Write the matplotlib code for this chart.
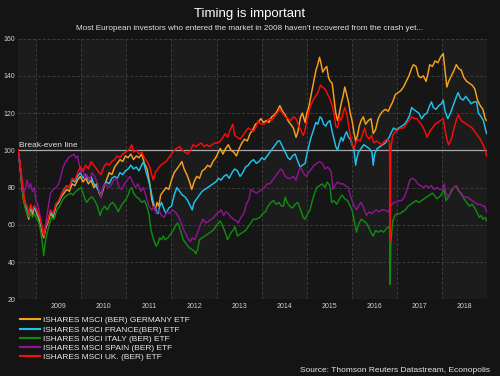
import matplotlib
matplotlib.use("Agg")
import matplotlib.pyplot as plt

plt.rcParams['font.family'] = ['Liberation Sans', 'DejaVu Sans']

# ---------------- data ----------------
title = "Timing is important"
subtitle = "Most European investors who entered the market in 2008 haven't recovered from the crash yet..."
source = "Source: Thomson Reuters Datastream, Econopolis"
labels = ["ISHARES MSCI (BER) GERMANY ETF", "ISHARES MSCI FRANCE(BER) ETF",
          "ISHARES MSCI ITALY (BER) ETF", "ISHARES MSCI SPAIN (BER) ETF",
          "ISHARES MSCI UK. (BER) ETF"]
years = [2009, 2010, 2011, 2012, 2013, 2014, 2015, 2016, 2017, 2018]
y_ticks = [20, 40, 60, 80, 100, 120, 140, 160]

germany_t = [2008.60, 2008.64, 2008.68, 2008.72, 2008.76, 2008.80, 2008.84, 2008.88, 2008.92, 2008.96,
             2009.00, 2009.05, 2009.10, 2009.14, 2009.17, 2009.21, 2009.26, 2009.32, 2009.38, 2009.44,
             2009.50, 2009.56, 2009.62, 2009.68, 2009.74, 2009.80, 2009.86, 2009.92, 2009.98, 2010.04,
             2010.10, 2010.16, 2010.22, 2010.28, 2010.34, 2010.40, 2010.44, 2010.50, 2010.56, 2010.62,
             2010.68, 2010.74, 2010.80, 2010.86, 2010.92, 2010.98, 2011.04, 2011.10, 2011.16, 2011.22,
             2011.28, 2011.34, 2011.40, 2011.46, 2011.52, 2011.56, 2011.60, 2011.64, 2011.68, 2011.72,
             2011.76, 2011.82, 2011.88, 2011.94, 2012.00, 2012.06, 2012.12, 2012.18, 2012.23, 2012.28,
             2012.34, 2012.40, 2012.45, 2012.50, 2012.56, 2012.62, 2012.68, 2012.74, 2012.80, 2012.86,
             2012.92, 2012.98, 2013.04, 2013.08, 2013.14, 2013.20, 2013.26, 2013.32, 2013.38, 2013.44,
             2013.50, 2013.56, 2013.62, 2013.68, 2013.74, 2013.80, 2013.86, 2013.92, 2013.98, 2014.04,
             2014.10, 2014.16, 2014.22, 2014.28, 2014.34, 2014.40, 2014.46, 2014.52, 2014.58, 2014.64,
             2014.70, 2014.76, 2014.80, 2014.86, 2014.90, 2014.96, 2015.00, 2015.04, 2015.08, 2015.12,
             2015.16, 2015.20, 2015.24, 2015.28, 2015.31, 2015.35, 2015.40, 2015.44, 2015.48, 2015.52,
             2015.56, 2015.60, 2015.64, 2015.68, 2015.72, 2015.76, 2015.80, 2015.84, 2015.88, 2015.92,
             2015.96, 2016.00, 2016.04, 2016.08, 2016.12, 2016.16, 2016.20, 2016.25, 2016.30, 2016.36,
             2016.42, 2016.47, 2016.52, 2016.58, 2016.62, 2016.68, 2016.74, 2016.80, 2016.84, 2016.90,
             2016.96, 2017.02, 2017.08, 2017.14, 2017.20, 2017.26, 2017.32, 2017.36, 2017.42, 2017.47,
             2017.52, 2017.58, 2017.64, 2017.68, 2017.72, 2017.78, 2017.84, 2017.90, 2017.96, 2018.02,
             2018.06, 2018.10, 2018.14, 2018.20, 2018.26, 2018.31, 2018.36, 2018.42, 2018.48, 2018.54,
             2018.60, 2018.66, 2018.72, 2018.78, 2018.84, 2018.90, 2018.95, 2018.98]
germany_v = [100, 93, 82, 74, 70, 66, 63, 69, 65, 70,
             67, 64, 60, 55, 53, 58, 61, 66, 64, 70,
             72, 75, 77, 79, 78, 82, 81, 84, 86, 83,
             85, 82, 84, 80, 82, 77, 75, 80, 84, 88,
             87, 91, 93, 95, 94, 97, 96, 98, 95, 97,
             96, 98, 93, 90, 82, 74, 70, 68, 72, 70,
             76, 78, 80, 79, 84, 88, 90, 92, 94, 90,
             87, 83, 79, 83, 86, 85, 89, 90, 92, 91,
             94, 96, 99, 101, 98, 101, 103, 100, 99, 97,
             101, 104, 106, 105, 109, 111, 114, 115, 117, 115,
             116, 115, 118, 119, 121, 124, 121, 119, 116, 114,
             112, 107, 110, 118, 120, 115, 120, 123, 128, 133,
             138, 143, 146, 150, 147, 142, 144, 145, 139, 137,
             136, 128, 120, 116, 120, 125, 129, 134, 130, 126,
             120, 116, 110, 105, 108, 113, 116, 118, 114, 116,
             117, 109, 111, 117, 119, 121, 122, 121, 123, 126,
             130, 131, 132, 134, 137, 140, 144, 146, 145, 140,
             139, 140, 137, 141, 146, 145, 148, 147, 150, 152,
             143, 134, 137, 140, 143, 146, 144, 143, 139, 137,
             136, 135, 133, 127, 124, 122, 117, 116]

france_t = [2008.60, 2008.64, 2008.68, 2008.72, 2008.76, 2008.80, 2008.84, 2008.88, 2008.92, 2008.96,
            2009.00, 2009.05, 2009.10, 2009.14, 2009.17, 2009.21, 2009.26, 2009.32, 2009.38, 2009.44,
            2009.50, 2009.56, 2009.62, 2009.68, 2009.74, 2009.80, 2009.86, 2009.92, 2009.98, 2010.04,
            2010.10, 2010.16, 2010.22, 2010.28, 2010.34, 2010.40, 2010.44, 2010.50, 2010.56, 2010.62,
            2010.68, 2010.74, 2010.80, 2010.86, 2010.92, 2010.98, 2011.04, 2011.10, 2011.16, 2011.22,
            2011.28, 2011.34, 2011.38, 2011.44, 2011.48, 2011.54, 2011.58, 2011.62, 2011.66, 2011.70,
            2011.74, 2011.78, 2011.84, 2011.88, 2011.94, 2012.00, 2012.06, 2012.12, 2012.18, 2012.24,
            2012.30, 2012.36, 2012.42, 2012.46, 2012.50, 2012.56, 2012.62, 2012.68, 2012.74, 2012.80,
            2012.86, 2012.92, 2012.98, 2013.04, 2013.10, 2013.16, 2013.22, 2013.28, 2013.34, 2013.40,
            2013.46, 2013.52, 2013.58, 2013.64, 2013.70, 2013.76, 2013.82, 2013.88, 2013.94, 2014.00,
            2014.06, 2014.12, 2014.18, 2014.24, 2014.30, 2014.36, 2014.40, 2014.46, 2014.52, 2014.58,
            2014.63, 2014.68, 2014.74, 2014.80, 2014.85, 2014.90, 2014.96, 2015.00, 2015.04, 2015.08,
            2015.12, 2015.16, 2015.20, 2015.24, 2015.29, 2015.33, 2015.37, 2015.42, 2015.46, 2015.51,
            2015.56, 2015.60, 2015.64, 2015.68, 2015.72, 2015.76, 2015.80, 2015.84, 2015.88, 2015.92,
            2015.96, 2016.00, 2016.04, 2016.08, 2016.10, 2016.14, 2016.20, 2016.26, 2016.32, 2016.38,
            2016.44, 2016.47, 2016.50, 2016.56, 2016.62, 2016.68, 2016.74, 2016.80, 2016.86, 2016.92,
            2016.98, 2017.04, 2017.10, 2017.16, 2017.22, 2017.28, 2017.32, 2017.36, 2017.42, 2017.48,
            2017.54, 2017.60, 2017.66, 2017.72, 2017.76, 2017.80, 2017.86, 2017.92, 2017.98, 2018.02,
            2018.06, 2018.12, 2018.18, 2018.24, 2018.30, 2018.35, 2018.40, 2018.46, 2018.52, 2018.58,
            2018.64, 2018.70, 2018.76, 2018.80, 2018.86, 2018.91, 2018.95, 2018.98]
france_v = [100, 93, 84, 76, 71, 68, 66, 70, 67, 69,
            68, 65, 62, 57, 54, 58, 62, 67, 65, 71,
            72, 76, 79, 81, 80, 84, 83, 86, 88, 85,
            87, 84, 86, 82, 80, 78, 76, 81, 83, 82,
            85, 86, 85, 88, 87, 89, 90, 92, 90, 91,
            89, 92, 94, 88, 85, 79, 74, 70, 68, 66,
            70, 72, 68, 66, 69, 70, 76, 80, 78, 76,
            75, 73, 70, 68, 72, 74, 76, 78, 79, 80,
            81, 82, 83, 85, 84, 86, 87, 85, 88, 90,
            89, 86, 88, 91, 92, 94, 95, 93, 94, 96,
            95, 97, 99, 101, 103, 105, 105, 102, 99, 96,
            95, 97, 98, 94, 91, 92, 93, 98, 102, 106,
            109, 112, 115, 114, 118, 117, 114, 113, 115, 116,
            110, 106, 102, 100, 104, 107, 105, 108, 110, 107,
            106, 103, 101, 92, 95, 99, 101, 103, 102, 101,
            99, 92, 98, 101, 102, 103, 104, 106, 109, 112,
            111, 112, 113, 114, 116, 119, 123, 122, 121, 120,
            117, 119, 120, 124, 126, 123, 122, 124, 125, 127,
            121, 117, 120, 124, 128, 131, 128, 127, 129, 127,
            125, 126, 126, 120, 118, 116, 112, 109]

italy_t = [2008.60, 2008.64, 2008.68, 2008.72, 2008.76, 2008.80, 2008.84, 2008.88, 2008.92, 2008.96,
           2009.00, 2009.05, 2009.10, 2009.14, 2009.17, 2009.20, 2009.24, 2009.28, 2009.34, 2009.40,
           2009.46, 2009.52, 2009.58, 2009.64, 2009.70, 2009.76, 2009.82, 2009.88, 2009.94, 2010.00,
           2010.04, 2010.08, 2010.12, 2010.18, 2010.24, 2010.30, 2010.36, 2010.42, 2010.46, 2010.52,
           2010.58, 2010.64, 2010.70, 2010.76, 2010.82, 2010.88, 2010.94, 2011.00, 2011.04, 2011.08,
           2011.12, 2011.16, 2011.22, 2011.28, 2011.34, 2011.40, 2011.44, 2011.50, 2011.54, 2011.58,
           2011.62, 2011.66, 2011.70, 2011.74, 2011.78, 2011.82, 2011.86, 2011.92, 2011.98, 2012.04,
           2012.10, 2012.14, 2012.20, 2012.26, 2012.32, 2012.38, 2012.44, 2012.50, 2012.54, 2012.58,
           2012.62, 2012.68, 2012.74, 2012.80, 2012.86, 2012.92, 2012.98, 2013.04, 2013.08, 2013.14,
           2013.19, 2013.24, 2013.30, 2013.36, 2013.41, 2013.46, 2013.52, 2013.58, 2013.64, 2013.70,
           2013.76, 2013.81, 2013.88, 2013.96, 2014.02, 2014.08, 2014.14, 2014.20, 2014.26, 2014.32,
           2014.38, 2014.44, 2014.48, 2014.52, 2014.56, 2014.62, 2014.68, 2014.74, 2014.80, 2014.86,
           2014.92, 2014.96, 2015.02, 2015.07, 2015.12, 2015.17, 2015.22, 2015.28, 2015.34, 2015.40,
           2015.45, 2015.51, 2015.55, 2015.60, 2015.66, 2015.72, 2015.78, 2015.84, 2015.90, 2015.96,
           2016.00, 2016.05, 2016.10, 2016.14, 2016.20, 2016.26, 2016.32, 2016.38, 2016.44, 2016.47,
           2016.52, 2016.58, 2016.64, 2016.70, 2016.76, 2016.80, 2016.83, 2016.845, 2016.86, 2016.90,
           2016.95, 2017.00, 2017.06, 2017.12, 2017.18, 2017.24, 2017.30, 2017.36, 2017.42, 2017.48,
           2017.54, 2017.60, 2017.66, 2017.72, 2017.78, 2017.82, 2017.88, 2017.94, 2018.00, 2018.04,
           2018.08, 2018.14, 2018.20, 2018.26, 2018.31, 2018.36, 2018.42, 2018.48, 2018.54, 2018.60,
           2018.66, 2018.72, 2018.76, 2018.82, 2018.86, 2018.90, 2018.95, 2018.98]
italy_v = [100, 92, 82, 74, 69, 66, 64, 67, 64, 66,
           64, 62, 57, 50, 43.5, 50, 55, 59, 64, 63,
           68, 70, 73, 75, 76, 77, 76, 78, 79, 80,
           77, 74, 72, 74, 75, 73, 70, 65, 68, 70,
           68, 71, 72, 70, 67, 70, 72, 74, 76, 79,
           80, 77, 75, 74, 72, 73, 71, 66, 58, 54,
           51, 48.5, 50, 53, 52, 54, 52, 53, 55, 57,
           60, 61, 57, 52, 50, 48, 47, 46, 44.5, 47,
           52, 53, 54, 55, 56, 57, 59, 61, 62, 59,
           56, 52, 55, 57, 59, 54, 55, 56, 57, 59,
           61, 63, 63, 64, 66, 67, 70, 72, 73, 71,
           72, 70, 70, 75, 72, 70, 69, 71, 72, 68,
           64, 63, 66, 68, 73, 77, 80, 81, 82, 80,
           83, 81, 72, 73, 71, 74, 76, 74, 73, 70,
           68, 62, 56, 60, 63, 62, 61, 58, 55, 54,
           57, 56, 57, 56, 58, 59, 58, 28, 50, 62,
           65, 66, 66, 67, 68, 70, 71, 72, 73, 72,
           73, 74, 75, 76, 77, 76, 74, 75, 77, 79,
           73, 75, 78, 80, 81, 78, 77, 74, 72, 70,
           71, 69, 67, 64, 65, 63, 64, 62]

spain_t = [2008.60, 2008.64, 2008.68, 2008.72, 2008.76, 2008.80, 2008.84, 2008.88, 2008.92, 2008.96,
           2009.00, 2009.05, 2009.10, 2009.14, 2009.17, 2009.21, 2009.26, 2009.32, 2009.38, 2009.44,
           2009.50, 2009.56, 2009.60, 2009.66, 2009.72, 2009.78, 2009.84, 2009.88, 2009.92, 2009.96,
           2010.00, 2010.04, 2010.08, 2010.12, 2010.18, 2010.24, 2010.30, 2010.36, 2010.40, 2010.44,
           2010.48, 2010.54, 2010.60, 2010.66, 2010.72, 2010.78, 2010.84, 2010.90, 2010.96, 2011.02,
           2011.08, 2011.14, 2011.20, 2011.26, 2011.32, 2011.38, 2011.44, 2011.50, 2011.56, 2011.62,
           2011.66, 2011.72, 2011.78, 2011.84, 2011.90, 2011.96, 2012.02, 2012.08, 2012.14, 2012.20,
           2012.26, 2012.32, 2012.38, 2012.42, 2012.46, 2012.52, 2012.58, 2012.64, 2012.70, 2012.76,
           2012.82, 2012.88, 2012.94, 2013.00, 2013.06, 2013.10, 2013.16, 2013.20, 2013.26, 2013.32,
           2013.38, 2013.44, 2013.48, 2013.54, 2013.60, 2013.66, 2013.72, 2013.76, 2013.82, 2013.88,
           2013.94, 2014.00, 2014.06, 2014.12, 2014.18, 2014.24, 2014.30, 2014.36, 2014.42, 2014.46,
           2014.52, 2014.58, 2014.64, 2014.70, 2014.76, 2014.82, 2014.86, 2014.92, 2014.98, 2015.04,
           2015.10, 2015.16, 2015.22, 2015.28, 2015.34, 2015.40, 2015.46, 2015.50, 2015.54, 2015.58,
           2015.62, 2015.68, 2015.74, 2015.80, 2015.86, 2015.92, 2015.96, 2016.00, 2016.05, 2016.10,
           2016.14, 2016.20, 2016.26, 2016.32, 2016.38, 2016.44, 2016.48, 2016.54, 2016.60, 2016.66,
           2016.72, 2016.80, 2016.86, 2016.92, 2016.98, 2017.04, 2017.10, 2017.16, 2017.22, 2017.28,
           2017.34, 2017.40, 2017.46, 2017.52, 2017.58, 2017.64, 2017.70, 2017.76, 2017.82, 2017.88,
           2017.94, 2018.00, 2018.04, 2018.08, 2018.14, 2018.20, 2018.26, 2018.31, 2018.36, 2018.42,
           2018.48, 2018.54, 2018.60, 2018.66, 2018.72, 2018.78, 2018.84, 2018.90, 2018.94, 2018.98]
spain_v = [100, 93, 84, 77, 79, 84, 80, 82, 78, 80,
           73, 70, 63, 58, 55, 60, 68, 77, 79, 80,
           82, 87, 91, 94, 96, 97, 98, 96, 97, 92,
           88, 90, 85, 87, 84, 88, 86, 82, 78, 75,
           80, 82, 80, 81, 84, 85, 80, 79, 82, 84,
           86, 83, 80, 82, 78, 80, 75, 70, 68, 70,
           66, 68, 65, 64, 67, 66, 68, 67, 65, 62,
           58, 55, 52, 51, 53, 52, 56, 60, 63, 61,
           62, 63, 64, 66, 67, 68, 65, 67, 66, 64,
           63, 62, 61, 64, 66, 71, 74, 79, 78, 77,
           78, 79, 80, 82, 82, 84, 86, 88, 90, 89,
           86, 85, 85, 86, 84, 89, 91, 88, 86, 88,
           90, 92, 93, 94, 93, 90, 91, 90, 88, 79,
           81, 83, 82, 82, 81, 80, 76, 73, 70, 68,
           70, 72, 69, 65, 67, 66, 67, 68, 67, 68,
           68, 67, 70, 72, 72, 73, 73, 75, 79, 84,
           85, 84, 82, 81, 80, 81, 80, 81, 79, 80,
           79, 79, 82, 77, 75, 79, 80, 81, 79, 76,
           75, 75, 74, 73, 72, 71, 71, 70, 70, 67]

uk_t = [2008.60, 2008.62, 2008.64, 2008.68, 2008.72, 2008.76, 2008.80, 2008.84, 2008.88, 2008.92,
        2008.96, 2009.00, 2009.05, 2009.10, 2009.14, 2009.17, 2009.21, 2009.26, 2009.32, 2009.38,
        2009.44, 2009.50, 2009.56, 2009.62, 2009.68, 2009.74, 2009.80, 2009.86, 2009.92, 2009.98,
        2010.04, 2010.10, 2010.16, 2010.22, 2010.28, 2010.34, 2010.40, 2010.44, 2010.50, 2010.56,
        2010.62, 2010.68, 2010.74, 2010.80, 2010.86, 2010.92, 2010.98, 2011.04, 2011.08, 2011.12,
        2011.16, 2011.22, 2011.28, 2011.34, 2011.40, 2011.46, 2011.52, 2011.56, 2011.60, 2011.64,
        2011.70, 2011.76, 2011.82, 2011.88, 2011.94, 2012.00, 2012.06, 2012.12, 2012.18, 2012.24,
        2012.30, 2012.36, 2012.42, 2012.48, 2012.54, 2012.60, 2012.66, 2012.72, 2012.78, 2012.84,
        2012.90, 2012.96, 2013.02, 2013.08, 2013.14, 2013.19, 2013.24, 2013.30, 2013.36, 2013.40,
        2013.46, 2013.52, 2013.58, 2013.64, 2013.70, 2013.76, 2013.82, 2013.88, 2013.92, 2013.98,
        2014.04, 2014.10, 2014.16, 2014.22, 2014.28, 2014.34, 2014.40, 2014.46, 2014.52, 2014.58,
        2014.64, 2014.70, 2014.76, 2014.82, 2014.86, 2014.92, 2014.96, 2015.00, 2015.04, 2015.08,
        2015.12, 2015.16, 2015.22, 2015.26, 2015.30, 2015.34, 2015.40, 2015.44, 2015.48, 2015.52,
        2015.56, 2015.60, 2015.64, 2015.68, 2015.72, 2015.76, 2015.80, 2015.84, 2015.88, 2015.92,
        2015.96, 2016.00, 2016.04, 2016.08, 2016.12, 2016.18, 2016.24, 2016.28, 2016.32, 2016.38,
        2016.43, 2016.48, 2016.54, 2016.60, 2016.66, 2016.72, 2016.78, 2016.83, 2016.845, 2016.86,
        2016.90, 2016.96, 2017.02, 2017.08, 2017.14, 2017.20, 2017.26, 2017.32, 2017.38, 2017.44,
        2017.50, 2017.56, 2017.62, 2017.66, 2017.72, 2017.78, 2017.84, 2017.90, 2017.96, 2018.02,
        2018.06, 2018.10, 2018.14, 2018.20, 2018.26, 2018.32, 2018.36, 2018.42, 2018.48, 2018.54,
        2018.60, 2018.66, 2018.72, 2018.78, 2018.84, 2018.90, 2018.94, 2018.98]
uk_v = [100, 98, 94, 86, 78, 72, 70, 66, 71, 68,
        70, 69, 66, 63, 58, 54, 59, 62, 68, 66,
        71, 73, 76, 79, 81, 80, 85, 84, 88, 91,
        89, 92, 90, 94, 92, 90, 88, 87, 91, 93,
        92, 94, 95, 97, 96, 98, 99, 100, 101, 103,
        99, 100, 98, 99, 96, 94, 91, 87, 84, 88,
        90, 92, 93, 94, 96, 98, 100, 101, 102, 100,
        99, 98, 100, 103, 102, 103, 104, 102, 103, 102,
        103, 104, 104, 105, 107, 109, 107, 111, 114, 108,
        107, 106, 108, 110, 112, 111, 110, 113, 116, 114,
        114, 115, 117, 116, 118, 120, 122, 120, 118, 117,
        116, 118, 117, 113, 111, 108, 111, 116, 120, 124,
        126, 128, 130, 132, 135, 134, 133, 131, 129, 127,
        124, 120, 113, 112, 118, 116, 120, 123, 120, 114,
        108, 103, 101, 104, 106, 105, 109, 112, 108, 106,
        108, 104, 105, 104, 103, 105, 106, 105, 51, 101,
        108, 110, 111, 112, 112, 114, 116, 118, 117, 117,
        115, 113, 110, 107, 110, 112, 114, 115, 116, 117,
        111, 106, 103, 106, 112, 117, 119, 116, 115, 114,
        113, 112, 110, 108, 106, 103, 101, 97]

colors = ["#f7a21b", "#1fc3ef", "#0f8a12", "#8e1491", "#ff0a0a"]

# ---------------- figure ----------------
fig = plt.figure(figsize=(5.0, 3.76), dpi=100, facecolor="#141414")
ax = fig.add_axes([18 / 500, 1 - 299.3 / 376, (487 - 18) / 500, (299.3 - 38.6) / 376])
ax.set_facecolor("#181818")

x0, x1 = 2008.6, 2018.99
ax.set_xlim(x0, x1)
ax.set_ylim(20, 160)

# alternating year bands
for yr in range(2008, 2019):
    c = "#1c1c1c" if yr % 2 == 0 else "#161616"
    ax.axvspan(max(yr, x0), min(yr + 1, x1), color=c, lw=0, zorder=0)

# grid
ax.set_xticks([y + 0.5 for y in years])
ax.set_xticklabels([str(y) for y in years])
ax.set_xticks(years, minor=True)
ax.set_yticks(y_ticks)
ax.set_yticklabels([str(v) for v in y_ticks])
ax.grid(which="minor", axis="x", color="#3c3c3c", lw=0.7, ls=(0, (3, 2)), zorder=1)
ax.grid(which="major", axis="y", color="#3c3c3c", lw=0.7, ls=(0, (3, 2)), zorder=1)
ax.grid(which="major", axis="x", visible=False)
ax.tick_params(which="both", length=0, colors="#d0d0d0", labelsize=5.0, pad=3)
ax.tick_params(axis="y", pad=2)
for s in ax.spines.values():
    s.set_visible(False)

# break-even line
ax.axhline(100, color="#a8a8a8", lw=0.9, zorder=2)
ax.text(2008.63, 100.6, "Break-even line", color="#e0e0e0", fontsize=6.0,
        ha="left", va="bottom", zorder=6)

series = [(germany_t, germany_v), (france_t, france_v), (italy_t, italy_v),
          (spain_t, spain_v), (uk_t, uk_v)]
handles = []
for (t, v), c, lab in zip(series, colors, labels):
    h, = ax.plot(t, v, color=c, lw=1.05, label=lab, zorder=3, solid_joinstyle="round")
    handles.append(h)

leg = fig.legend(handles=handles, labels=labels, loc="upper left",
                 bbox_to_anchor=(20 / 500, 1 - 316.5 / 376), frameon=False,
                 fontsize=6.0, handlelength=2.4, handletextpad=0.38,
                 labelspacing=0.16, borderaxespad=0, borderpad=0)
for txt in leg.get_texts():
    txt.set_color("#e6e6e6")
for ln in leg.get_lines():
    ln.set_linewidth(1.5)

fig.text(0.5, 1 - 13.5 / 376, title, ha="center", va="center",
         color="white", fontsize=9.5)
fig.text(0.5, 1 - 28.5 / 376, subtitle, ha="center", va="center",
         color="#e0e0e0", fontsize=5.9)
fig.text(490 / 500, 1 - 370 / 376, source, ha="right", va="center",
         color="#e6e6e6", fontsize=6.0)

fig.savefig("out.png", dpi=100, facecolor=fig.get_facecolor())
